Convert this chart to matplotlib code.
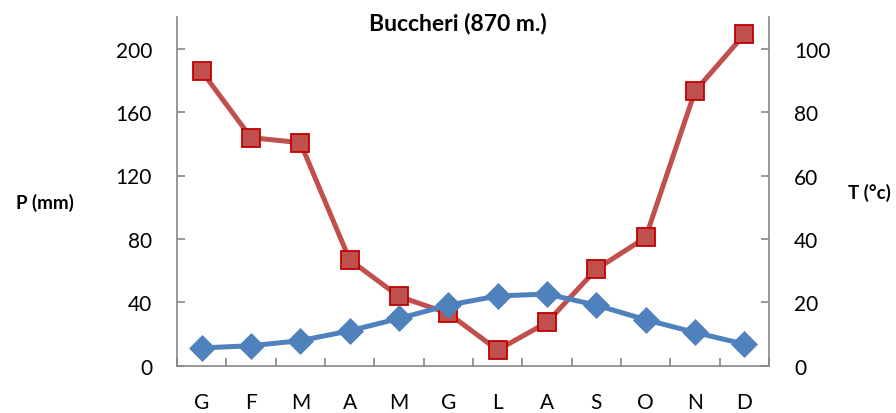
import matplotlib
matplotlib.use("Agg")
import matplotlib.pyplot as plt
import numpy as np

plt.rcParams['font.family'] = ['Lato', 'DejaVu Sans']

months = ["G", "F", "M", "A", "M", "G", "L", "A", "S", "O", "N", "D"]
precip = [185.8, 143.9, 140.7, 66.8, 43.7, 33.0, 9.9, 27.3, 60.9, 80.9, 173.2, 209.0]
temp = [5.6, 6.3, 7.9, 11.0, 14.9, 19.1, 22.0, 22.6, 19.1, 14.5, 10.5, 6.8]
p_ticks = [0, 40, 80, 120, 160, 200]
t_ticks = [0, 20, 40, 60, 80, 100]

fig = plt.figure(figsize=(8.96, 4.14), dpi=100)
ax = fig.add_axes([177/896, 1 - 366.7/414, (769-177)/896, (366.7-18)/414])
ax2 = ax.twinx()

x = np.arange(len(months))
ax.plot(x, precip, color="#C0504D", lw=3.6, marker="s", markersize=13,
        markerfacecolor="#C0504D", markeredgecolor="#C00000", markeredgewidth=1.3,
        solid_joinstyle="round", zorder=3)
ax2.plot(x, temp, color="#4F81BD", lw=3.6, marker="D", markersize=13.5,
         markerfacecolor="#4F81BD", markeredgecolor="#4F81BD", markeredgewidth=0.5,
         solid_joinstyle="round", zorder=3)

ax.set_xlim(-0.5, len(months) - 0.5)
ax.set_ylim(0, 220)
ax2.set_ylim(0, 110)
ax.set_yticks(p_ticks)
ax2.set_yticks(t_ticks)
ax.set_xticks(x)
ax.set_xticklabels(months)
ax.set_xticks(np.arange(len(months) + 1) - 0.5, minor=True)

spine_c = "#868686"
for a in (ax, ax2):
    for s in a.spines.values():
        s.set_color(spine_c)
        s.set_linewidth(1.2)
    a.spines['top'].set_visible(False)
ax.spines['right'].set_visible(False)
ax2.spines['left'].set_visible(False)
ax2.spines['bottom'].set_visible(False)

ax.tick_params(axis='y', direction='in', length=6, width=1.2, color=spine_c,
               labelsize=15, pad=18)
ax2.tick_params(axis='y', direction='in', length=6, width=1.2, color=spine_c,
                labelsize=15, pad=18)
ax.tick_params(axis='x', which='major', length=0, labelsize=15, pad=19)
ax.tick_params(axis='x', which='minor', direction='in', length=6, width=1.2, color=spine_c)

fig.text(458/896, 1 - 24/414, "Buccheri (870 m.)", ha='center', va='center',
         fontsize=16.5, fontweight='bold')
fig.text(45/896, 1 - 203/414, "P (mm)", ha='center', va='center',
         fontsize=13.5, fontweight='bold')
fig.text(869/896, 1 - 193/414, "T (°c)", ha='center', va='center',
         fontsize=13.5, fontweight='bold')

fig.savefig("out.png", dpi=100)
